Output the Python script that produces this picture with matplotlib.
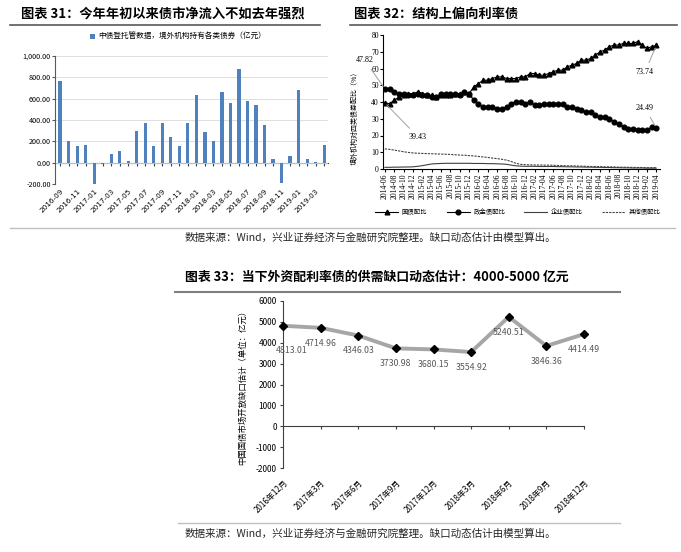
import numpy as np
import pandas as pd
import matplotlib
matplotlib.use('Agg')
import matplotlib.pyplot as plt
from matplotlib.lines import Line2D
from matplotlib.ticker import FuncFormatter

plt.rcParams['font.family'] = ['Noto Sans CJK SC', 'DejaVu Sans']
plt.rcParams['axes.unicode_minus'] = False

# ---- 图表31：境外机构月度净增持（亿元），2016-09 ~ 2019-04
inflow_months = pd.period_range('2016-09', '2019-04', freq='M').strftime('%Y-%m').tolist()
inflow_vals = [770, 205, 155, 170, -200, -10, 85, 105, 15, 295, 375, 155,
               375, 245, 155, 375, 630, 285, 205, 660, 555, 875, 580, 540,
               355, 35, -195, 60, 685, 30, 10, 170]
inflow_label = '中债登托管数据，境外机构持有各类债券（亿元）'

# ---- 图表32：境外机构各类债券配比（%），2014-06 ~ 2019-04
mix_months = pd.period_range('2014-06', '2019-04', freq='M').strftime('%Y-%m').tolist()
govt_share = [39.43, 39, 41, 43, 44, 45, 45, 46, 45, 44, 44, 43, 44, 44, 44, 45, 45, 46, 45,
              49, 51, 53, 53, 54, 55, 55, 54, 54, 54, 55, 55, 57, 57, 56, 56, 57, 58, 59, 59,
              61, 62, 63, 65, 65, 66, 68, 70, 71, 73, 74, 74, 75, 75, 75, 76, 74, 72, 73, 73.74]
policy_share = [47.82, 48, 46, 45, 45, 44, 44, 45, 44, 44, 43, 43, 45, 45, 45, 45, 44, 46, 45,
                41, 39, 37, 37, 37, 36, 36, 37, 39, 40, 40, 39, 40, 38, 38, 39, 39, 39, 39, 39,
                37, 37, 36, 35, 34, 34, 32, 31, 31, 30, 28, 27, 25, 24, 24, 23, 23, 23, 25, 24.49]
corp_share = [1.0, 1.0, 1.1, 1.1, 1.2, 1.2, 1.3, 1.6, 2.0, 2.5, 3.0, 3.2,
              3.3, 3.4, 3.4, 3.4, 3.4, 3.4, 3.4, 3.3, 3.3, 3.3, 3.2, 3.2, 3.1, 3.0, 2.8,
              2.3, 1.9, 1.7, 1.6,
              1.6, 1.6, 1.5, 1.5, 1.5, 1.5, 1.4, 1.4, 1.3, 1.3, 1.2, 1.2, 1.1, 1.1, 1.0,
              1.0, 0.9, 0.9, 0.8, 0.8, 0.7, 0.7, 0.6, 0.6, 0.6, 0.5, 0.5, 0.5]
other_share = [12.0, 11.7, 11.3, 10.8, 10.3, 9.9, 9.6, 9.4, 9.3, 9.2,
               9.1, 9.0, 8.9, 8.8, 8.7, 8.5, 8.3, 8.2, 8.0, 7.8,
               7.5, 7.2, 6.9, 6.5, 6.2, 5.8, 5.3, 4.5, 3.4, 2.8,
               2.6, 2.5, 2.4, 2.4, 2.3, 2.3, 2.2, 2.1, 2.0, 1.9,
               1.9, 1.8, 1.7, 1.6, 1.5, 1.5, 1.4, 1.3, 1.3, 1.2,
               1.1, 1.1, 1.0, 1.0, 0.9, 0.9, 0.8, 0.8, 0.8]
mix_names = ['国债配比', '政金债配比', '企业债配比', '其他债配比']

# ---- 图表33：供需缺口动态估计（亿元）
gap_quarters = ['2016年12月', '2017年3月', '2017年6月', '2017年9月', '2017年12月',
                '2018年3月', '2018年6月', '2018年9月', '2018年12月']
gap_vals = [4813.01, 4714.96, 4346.03, 3730.98, 3680.15, 3554.92, 5240.51, 3846.36, 4414.49]

source_note = '数据来源：Wind，兴业证券经济与金融研究院整理。缺口动态估计由模型算出。'

W, H = 681, 552


def fx(px):
    return px / W


def fy(py):
    return 1 - py / H


def hline(x0, x1, y, color, lw):
    fig.add_artist(Line2D([fx(x0), fx(x1)], [fy(y), fy(y)], color=color, lw=lw))


fig = plt.figure(figsize=(W / 100, H / 100), dpi=100)

# 标题与分隔线
fig.text(fx(21), fy(14), '图表 31：今年年初以来债市净流入不如去年强烈', fontsize=9.5,
         fontweight='bold', va='center')
fig.text(fx(354), fy(14), '图表 32：结构上偏向利率债', fontsize=9.5, fontweight='bold', va='center')
fig.text(fx(185), fy(277), '图表 33：当下外资配利率债的供需缺口动态估计：4000-5000 亿元',
         fontsize=9.3, fontweight='bold', va='center')
hline(10, 320, 25, '#595959', 1.2)
hline(350, 677, 25, '#595959', 1.2)
hline(10, 675, 228, '#bfbfbf', 1.0)
hline(175, 620, 292, '#7f7f7f', 1.5)
hline(178, 620, 523, '#bfbfbf', 1.0)
fig.text(fx(185), fy(238), source_note, fontsize=7.6, va='center', color='#262626')
fig.text(fx(185), fy(534), source_note, fontsize=7.6, va='center', color='#262626')

# ---------------- 图表31
ax1 = fig.add_axes([fx(55), fy(184), (328 - 55) / W, (184 - 56) / H])
x1 = np.arange(len(inflow_vals))
ax1.bar(x1, inflow_vals, width=0.38, color='#4f81bd', label=inflow_label, zorder=3)
ax1.set_xlim(-0.6, 31.45)
ax1.set_ylim(-200, 1000)
ax1.set_yticks(range(-200, 1001, 200))
ax1.yaxis.set_major_formatter(FuncFormatter(lambda v, p: f'{v:,.2f}'))
ax1.grid(axis='y', color='#d9d9d9', lw=0.6)
ax1.set_axisbelow(True)
for s in ['top', 'right', 'bottom']:
    ax1.spines[s].set_visible(False)
ax1.spines['left'].set_color('#595959')
ax1.spines['left'].set_linewidth(0.8)
ax1.set_xticks(x1[::2])
ax1.set_xticklabels(inflow_months[::2], rotation=45, ha='right', va='top',
                    rotation_mode='anchor', fontsize=5.2, family='DejaVu Sans')
ax1.tick_params(axis='x', length=0, pad=3)
ax1.tick_params(axis='y', labelsize=5.2, length=2, color='#595959', pad=1)
sec1 = ax1.secondary_xaxis(200 / 1200)
sec1.set_xticks(x1)
sec1.tick_params(length=2, color='#404040', labelbottom=False)
sec1.spines['bottom'].set_color('#404040')
sec1.spines['bottom'].set_linewidth(0.8)
ax1.legend(loc='center', bbox_to_anchor=(fx(178), fy(37)), bbox_transform=fig.transFigure,
           frameon=False, fontsize=5.5, handlelength=0.6, handleheight=0.6, handletextpad=0.4)

# ---------------- 图表32
ax2 = fig.add_axes([fx(383), fy(169), (660 - 383) / W, (169 - 35) / H])
x2 = np.arange(len(govt_share))
l1, = ax2.plot(x2, govt_share, color='black', lw=0.8, marker='^', ms=3.4)
l2, = ax2.plot(x2, policy_share, color='black', lw=0.8, marker='o', ms=3.4)
l3, = ax2.plot(x2, corp_share, color='#404040', lw=0.8)
l4, = ax2.plot(x2, other_share, color='#404040', lw=0.8, ls=(0, (2, 1)))
ax2.set_xlim(-0.4, 58.8)
ax2.set_ylim(0, 80)
ax2.set_yticks(range(0, 81, 10))
for s in ['top', 'right']:
    ax2.spines[s].set_visible(False)
ax2.set_xticks(x2[::2])
ax2.set_xticklabels(mix_months[::2], rotation=90, fontsize=5.5, family='Liberation Serif')
ax2.tick_params(axis='x', length=2, pad=1)
ax2.tick_params(axis='y', length=2, pad=1, labelsize=5.5)
for t in ax2.get_yticklabels():
    t.set_family('Liberation Serif')
fig.text(fx(355), fy(116), '境外机构对四类债券配比（%）', rotation=90, fontsize=5,
         ha='center', va='center')
fig.legend([l1, l2, l3, l4], mix_names, loc='center', ncol=4, frameon=False,
           bbox_to_anchor=(fx(518), fy(212)), fontsize=4.6, handlelength=3.6,
           columnspacing=3.0, handletextpad=0.6)

note_style = dict(textcoords='figure fraction', fontsize=5.8, family='Liberation Serif',
                  ha='center', va='center',
                  arrowprops=dict(arrowstyle='-', color='#a0a0a0', lw=0.7))
ax2.annotate(f'{policy_share[0]:.2f}', xy=(0, policy_share[0]), xytext=(fx(365), fy(60.5)), **note_style)
ax2.annotate(f'{govt_share[0]:.2f}', xy=(0, govt_share[0]), xytext=(fx(418), fy(137)), **note_style)
ax2.annotate(f'{govt_share[-1]:.2f}', xy=(x2[-1], govt_share[-1]), xytext=(fx(645), fy(72)), **note_style)
ax2.annotate(f'{policy_share[-1]:.2f}', xy=(x2[-1], policy_share[-1]), xytext=(fx(645), fy(108)), **note_style)

# ---------------- 图表33
ax3 = fig.add_axes([fx(283), fy(468), (584 - 283) / W, (468 - 301) / H])
x3 = np.arange(len(gap_vals))
ax3.plot(x3, gap_vals, color='#a6a6a6', lw=2.8, zorder=2, clip_on=False)
ax3.plot(x3, gap_vals, ls='none', marker='D', color='black', ms=4.5, zorder=3, clip_on=False)
for i, v in enumerate(gap_vals):
    ax3.annotate(f'{v:.2f}', (x3[i], v), xytext=(6, -18) if i == 0 else (0, -11),
                 textcoords='offset points', ha='center', va='center',
                 fontsize=6.3, color='#595959', zorder=4)
ax3.set_xlim(0, len(gap_vals) - 1)
ax3.set_ylim(-2000, 6000)
ax3.set_yticks(range(-2000, 6001, 1000))
for s in ['top', 'right', 'bottom']:
    ax3.spines[s].set_visible(False)
ax3.spines['left'].set_color('#404040')
ax3.set_xticks(x3)
ax3.set_xticklabels(gap_quarters, rotation=45, ha='right', va='top',
                    rotation_mode='anchor', fontsize=5.8)
ax3.tick_params(axis='x', length=0, pad=7)
ax3.tick_params(axis='y', labelsize=6, length=2.5, color='#404040', pad=2)
sec3 = ax3.secondary_xaxis(0.25)
sec3.set_xticks(x3)
sec3.tick_params(length=2.5, color='#404040', labelbottom=False)
sec3.spines['bottom'].set_color('#404040')
fig.text(fx(243), fy(385), '中国国债市场开放缺口估计（单位：亿元）', rotation=90,
         fontsize=6, ha='center', va='center')

fig.savefig('out.png', dpi=100)
